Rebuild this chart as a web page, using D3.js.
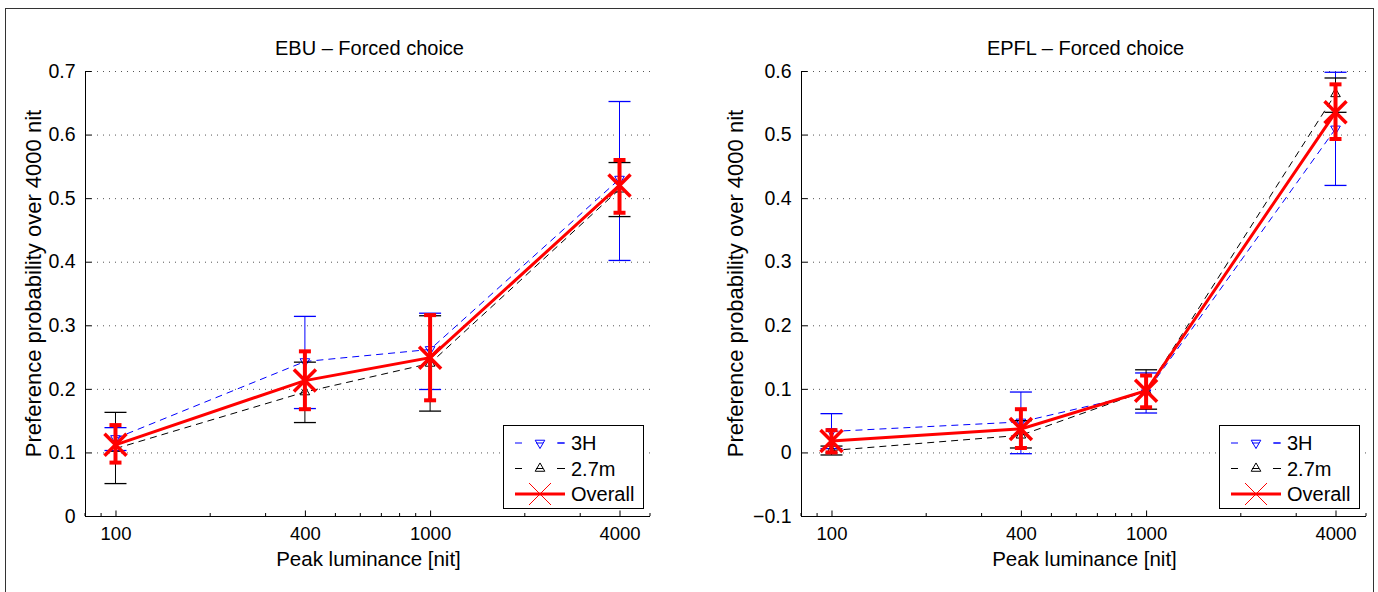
<!DOCTYPE html>
<html>
<head>
<meta charset="utf-8">
<script src="https://cdn.jsdelivr.net/npm/d3@7"></script>
<style>
  body { margin: 0; background: #fff; }
  text { font-family: "Liberation Sans", Arial, Helvetica, sans-serif; fill: #000; }
</style>
</head>
<body>
<div id="chart"></div>
<script>
// DATA ######################################################
const luminance = [100, 400, 1000, 4000];
const xTickLabels = ["100", "400", "1000", "4000"];
const seriesNames = ["3H", "2.7m", "Overall"];

// EBU panel
const ebu3H = [0.122, 0.243, 0.262, 0.530];
const ebu3HLow = [0.103, 0.169, 0.199, 0.402];
const ebu3HHigh = [0.139, 0.314, 0.319, 0.652];
const ebu27m = [0.106, 0.195, 0.240, 0.514];
const ebu27mLow = [0.051, 0.147, 0.165, 0.471];
const ebu27mHigh = [0.163, 0.242, 0.315, 0.556];
const ebuAll = [0.112, 0.213, 0.249, 0.520];
const ebuAllLow = [0.084, 0.168, 0.182, 0.477];
const ebuAllHigh = [0.143, 0.259, 0.316, 0.560];
const ebuYTicks = [0, 0.1, 0.2, 0.3, 0.4, 0.5, 0.6, 0.7];

// EPFL panel
const epfl3H = [0.033, 0.048, 0.094, 0.509];
const epfl3HLow = [0.006, -0.002, 0.062, 0.420];
const epfl3HHigh = [0.061, 0.095, 0.125, 0.598];
const epfl27m = [0.003, 0.027, 0.097, 0.564];
const epfl27mLow = [-0.004, 0.007, 0.068, 0.535];
const epfl27mHigh = [0.010, 0.050, 0.130, 0.589];
const epflAll = [0.018, 0.037, 0.097, 0.535];
const epflAllLow = [0.000, 0.007, 0.071, 0.493];
const epflAllHigh = [0.035, 0.068, 0.121, 0.579];
const epflYTicks = [-0.1, 0, 0.1, 0.2, 0.3, 0.4, 0.5, 0.6];

// CONSTANTS #################################################
const width = 1378, height = 592;
const plotTop = 71, plotBottom = 516;
const minorX = [80, 90, 200, 300, 500, 600, 700, 800, 900, 2000, 3000, 5000];

const svg = d3.select("#chart").append("svg")
    .attr("width", width)
    .attr("height", height);

// figure frame
svg.append("rect")
    .attr("x", 5.5).attr("y", 8.5)
    .attr("width", 1368).attr("height", 600)
    .attr("fill", "none").attr("stroke", "#333").attr("stroke-width", 1);

const triDown = d3.symbol().type(d3.symbolTriangle).size(40);

function pack(mean, lo, hi) {
    return luminance.map((x, i) => ({ x, y: mean[i], lo: lo[i], hi: hi[i] }));
}

function drawPanel(p) {
    const xScale = d3.scaleLog().domain([80, 5000]).range([p.left, p.right]);
    const yScale = d3.scaleLinear().domain(p.yDomain).range([plotBottom, plotTop]);
    const g = svg.append("g");

    // grid -------------------------------------------------
    g.selectAll("line.grid").data(p.yTicks).join("line")
        .attr("x1", p.left).attr("x2", p.right)
        .attr("y1", d => yScale(d) + 0.5).attr("y2", d => yScale(d) + 0.5)
        .attr("stroke", "#555").attr("stroke-width", 1)
        .attr("stroke-dasharray", "1,5");

    // axes -------------------------------------------------
    const yAxis = d3.axisLeft(yScale).tickValues(p.yTicks)
        .tickSize(-6).tickPadding(10).tickFormat(d3.format("~g"));
    const ya = g.append("g").attr("transform", `translate(${p.left + 0.5},0)`).call(yAxis);
    ya.select(".domain").attr("d", `M0,${plotTop}V${plotBottom}`);
    ya.selectAll("text").style("font-size", "19.5px")
        .text(d => d < 0 ? "\u2212" + Math.abs(d) : d);

    const xAxis = d3.axisBottom(xScale).tickValues(luminance)
        .tickSize(-6).tickPadding(10).tickFormat((d, i) => xTickLabels[i]);
    const xa = g.append("g").attr("transform", `translate(0,${plotBottom + 0.5})`).call(xAxis);
    xa.select(".domain").attr("d", `M${p.left},0H${p.right}`);
    xa.selectAll("text").style("font-size", "18.5px");

    g.selectAll("line.minor").data(minorX).join("line")
        .attr("x1", d => xScale(d)).attr("x2", d => xScale(d))
        .attr("y1", plotBottom).attr("y2", plotBottom - 3)
        .attr("stroke", "#000");

    // labels -----------------------------------------------
    g.append("text")
        .attr("x", (p.left + p.right) / 2 + 2).attr("y", 55)
        .attr("text-anchor", "middle").style("font-size", "20px")
        .text(p.title);
    g.append("text")
        .attr("x", (p.left + p.right) / 2 + 1).attr("y", 566)
        .attr("text-anchor", "middle").style("font-size", "20.5px")
        .text("Peak luminance [nit]");
    g.append("text")
        .attr("transform", `translate(${p.ylabelX},${(plotTop + plotBottom) / 2 - 10}) rotate(-90)`)
        .attr("text-anchor", "middle").style("font-size", "22px")
        .text("Preference probability over 4000 nit");

    const line = d3.line().x(d => xScale(d.x)).y(d => yScale(d.y));

    // thin series --------------------------------------------
    p.series.forEach(s => {
        const sg = g.append("g");
        sg.append("path").datum(s.data).attr("d", line)
            .attr("fill", "none").attr("stroke", s.color).attr("stroke-width", 1)
            .attr("stroke-dasharray", "7,5");
        const eb = sg.selectAll("g.eb").data(s.data).join("g");
        eb.append("line")
            .attr("x1", d => xScale(d.x)).attr("x2", d => xScale(d.x))
            .attr("y1", d => yScale(d.lo)).attr("y2", d => yScale(d.hi))
            .attr("stroke", s.color);
        [d => d.lo, d => d.hi].forEach(f => {
            eb.append("line")
                .attr("x1", d => xScale(d.x) - 11).attr("x2", d => xScale(d.x) + 11)
                .attr("y1", d => yScale(f(d))).attr("y2", d => yScale(f(d)))
                .attr("stroke", s.color).attr("stroke-width", 1.3);
        });
        sg.selectAll("path.mk").data(s.data).join("path")
            .attr("d", triDown)
            .attr("transform", d => `translate(${xScale(d.x)},${yScale(d.y)}) rotate(${s.rot})`)
            .attr("fill", "none").attr("stroke", s.color);
    });

    // overall ----------------------------------------------
    const og = g.append("g");
    og.append("path").datum(p.overall).attr("d", line)
        .attr("fill", "none").attr("stroke", "#ff0000").attr("stroke-width", 3);
    const oeb = og.selectAll("g.oeb").data(p.overall).join("g");
    oeb.append("line")
        .attr("x1", d => xScale(d.x)).attr("x2", d => xScale(d.x))
        .attr("y1", d => yScale(d.lo)).attr("y2", d => yScale(d.hi))
        .attr("stroke", "#ff0000").attr("stroke-width", 4);
    [d => d.lo, d => d.hi].forEach(f => {
        oeb.append("line")
            .attr("x1", d => xScale(d.x) - 6).attr("x2", d => xScale(d.x) + 6)
            .attr("y1", d => yScale(f(d))).attr("y2", d => yScale(f(d)))
            .attr("stroke", "#ff0000").attr("stroke-width", 4);
    });
    oeb.append("path")
        .attr("d", d => {
            const cx = xScale(d.x), cy = yScale(d.y), r = 11;
            return `M${cx - r},${cy - r}L${cx + r},${cy + r}M${cx - r},${cy + r}L${cx + r},${cy - r}`;
        })
        .attr("stroke", "#ff0000").attr("stroke-width", 3.5);

    // legend -----------------------------------------------
    const lx = p.right - 147, ly = 425;
    const lg = g.append("g").attr("transform", `translate(${lx},${ly})`);
    lg.append("rect").attr("x", 0.5).attr("y", 0.5).attr("width", 140).attr("height", 83)
        .attr("fill", "#fff").attr("stroke", "#000");
    const rows = [
        { name: seriesNames[0], color: p.series[0].color, kind: "tri", rot: 180 },
        { name: seriesNames[1], color: p.series[1].color, kind: "tri", rot: 0 },
        { name: seriesNames[2], color: "#ff0000", kind: "x" }
    ];
    rows.forEach((r, i) => {
        const y = 18 + i * 25.5;
        if (r.kind === "tri") {
            lg.append("line").attr("x1", 12).attr("x2", 62).attr("y1", y).attr("y2", y)
                .attr("stroke", r.color).attr("stroke-dasharray", "7,14");
            lg.append("line").attr("x1", 55).attr("x2", 62).attr("y1", y).attr("y2", y)
                .attr("stroke", r.color);
            lg.append("path").attr("d", triDown)
                .attr("transform", `translate(37,${y}) rotate(${r.rot})`)
                .attr("fill", "none").attr("stroke", r.color);
        } else {
            lg.append("line").attr("x1", 12).attr("x2", 62).attr("y1", y).attr("y2", y)
                .attr("stroke", r.color).attr("stroke-width", 3);
            lg.append("path").attr("d", "M26," + (y - 11) + "L48," + (y + 11) + "M26," + (y + 11) + "L48," + (y - 11))
                .attr("stroke", r.color).attr("stroke-width", 1);
        }
        lg.append("text").attr("x", 68).attr("y", y + 7)
            .style("font-size", "20px").text(r.name);
    });
}

drawPanel({
    title: "EBU \u2013 Forced choice",
    left: 85, right: 650, ylabelX: 41,
    yDomain: [0, 0.7], yTicks: ebuYTicks,
    series: [
        { color: "#0000ff", rot: 180, data: pack(ebu3H, ebu3HLow, ebu3HHigh) },
        { color: "#000000", rot: 0, data: pack(ebu27m, ebu27mLow, ebu27mHigh) }
    ],
    overall: pack(ebuAll, ebuAllLow, ebuAllHigh)
});

drawPanel({
    title: "EPFL \u2013 Forced choice",
    left: 801, right: 1366, ylabelX: 743,
    yDomain: [-0.1, 0.6], yTicks: epflYTicks,
    series: [
        { color: "#0000ff", rot: 180, data: pack(epfl3H, epfl3HLow, epfl3HHigh) },
        { color: "#000000", rot: 0, data: pack(epfl27m, epfl27mLow, epfl27mHigh) }
    ],
    overall: pack(epflAll, epflAllLow, epflAllHigh)
});
</script>
</body>
</html>
